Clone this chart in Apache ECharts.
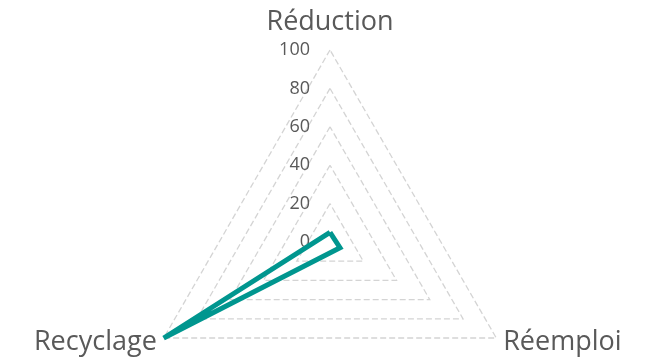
<!DOCTYPE html>
<html>
<head>
<meta charset="utf-8">
<script src="https://cdn.jsdelivr.net/npm/echarts@6/dist/echarts.min.js"></script>
<style>
  html, body { margin: 0; padding: 0; background: #ffffff; }
  #chart { width: 654px; height: 358px; }
</style>
</head>
<body>
<div id="chart"></div>
<script>
// Waste-hierarchy scores, listed in the order the radar lays its axes out
const categories = ['Réduction', 'Recyclage', 'Réemploi'];
const scores = [5, 100, 6];
const axisMax = 100;
const tickStep = 20;

const chart = echarts.init(document.getElementById('chart'), null, { renderer: 'canvas' });

const indicators = categories.map((name, i) => {
  const ind = { name: name, min: 0, max: axisMax };
  if (i === 0) {
    ind.axisLabel = { show: true };
  }
  return ind;
});

chart.setOption({
  animation: false,
  backgroundColor: '#ffffff',
  radar: {
    center: [330, 242],
    radius: 192,
    startAngle: 90,
    shape: 'polygon',
    splitNumber: axisMax / tickStep,
    indicator: indicators,
    nameGap: 8,
    axisName: {
      color: '#595959',
      fontSize: 27,
      fontFamily: 'Open Sans',
      padding: [0, 0, 6, 0]
    },
    axisLine: { show: false },
    axisTick: { show: false },
    axisLabel: {
      show: false,
      color: '#595959',
      fontSize: 18,
      fontFamily: 'Open Sans',
      margin: 20
    },
    splitLine: {
      lineStyle: { color: '#d4d4d4', width: 1.3, type: [6, 3] }
    },
    splitArea: { show: false }
  },
  series: [{
    type: 'radar',
    symbol: 'none',
    lineStyle: { color: '#00968f', width: 5, join: 'miter' },
    data: [{ value: scores }]
  }]
});
</script>
</body>
</html>
